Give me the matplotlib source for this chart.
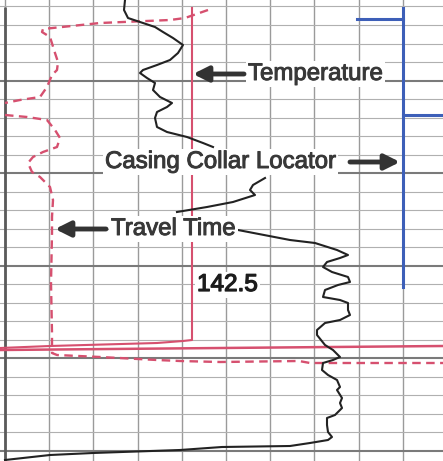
import numpy as np
from matplotlib import pyplot as plt
from matplotlib import patheffects as pe

# log track: x = track position, y = depth (pixels down)
# temperature curve, broken where the labels sit
temp_x1 = [125, 124, 128, 140, 155, 163, 173, 183, 178, 170, 157, 143, 140, 147, 155, 153, 160, 172, 167, 157, 155, 157, 167, 187, 203, 213]
temp_y1 = [0, 10, 18, 22, 27, 32, 38, 45, 53, 60, 65, 70, 73, 78, 83, 90, 97, 103, 107, 112, 118, 127, 132, 137, 143, 147]
temp_x2 = [265, 253, 250, 255, 233, 207, 177]
temp_y2 = [178, 185, 190, 195, 202, 207, 212]
temp_x3 = [238, 290, 315, 337, 348, 340, 327, 323, 332, 348, 350, 338, 325, 323, 340, 348, 348, 350, 340, 325,
           317, 317, 325, 333, 340, 333, 323, 322, 328, 337, 340, 337, 342, 340, 342, 335, 327, 327, 328, 332,
           328, 310, 290, 222, 180, 93, 50, 5]
temp_y3 = [230, 240, 243, 250, 255, 258, 262, 267, 272, 277, 282, 285, 290, 297, 300, 303, 310, 315, 320, 323,
           330, 335, 345, 350, 357, 360, 363, 370, 375, 380, 387, 390, 398, 403, 408, 415, 418, 425, 432, 437,
           440, 443, 446, 447, 450, 453, 455, 460]

# travel time (dashed)
tt_x = [208, 185, 170, 100, 43, 42, 50, 55, 58, 57, 52, 47, 40, 20, 5]
tt_y = [10, 18, 20, 23, 29, 32, 37, 53, 62, 70, 75, 87, 97, 100, 103]
tt_x2 = [5, 27, 47, 55, 60, 57, 43, 33, 28, 32, 40, 50, 53, 52, 52, 51, 52, 52, 57, 100, 157, 180, 220, 299, 310, 443]
tt_y2 = [115, 117, 120, 130, 138, 147, 152, 157, 163, 172, 177, 187, 200, 217, 233, 283, 333, 353, 355, 357, 360, 361, 362, 361, 363, 363]

# solid red reference line
red_x = [192, 192, 183, 157, 50, 0]
red_y = [8, 340, 341, 343, 346, 348]
red_base_x = [0, 443]
red_base_y = [350, 346]

# casing collar locator (blue)
ccl_x = [357, 403, 403, 403, 403, 443]
ccl_y = [19, 19, 8, 287, 115, 115]

grid_x = 5 + 44.2 * np.arange(10)
grid_y = 6.5 + 18.52 * np.arange(25)
major_y = grid_y[4::5]

fig = plt.figure(figsize=(4.43, 4.61), dpi=100)
ax = fig.add_axes([0, 0, 1, 1])
ax.set_xlim(0, 443)
ax.set_ylim(461, 0)

ax.set_xticks(grid_x)
ax.set_yticks(major_y)
ax.set_yticks(grid_y, minor=True)
ax.grid(which='major', axis='x', color='#9a9a9a', lw=1.0)
ax.grid(which='major', axis='y', color='#7a7a7a', lw=1.5)
ax.grid(which='minor', axis='y', color='#b0b0b0', lw=0.8)
ax.tick_params(which='both', length=0, labelleft=False, labelbottom=False)
for s in ax.spines.values():
    s.set_visible(False)

ax.vlines(grid_x[0], 7, 461, color='#5a5a5a', lw=2.0, zorder=2)

red = '#d6506f'
ax.plot(red_x, red_y, color=red, lw=1.5, zorder=3)
ax.plot(red_base_x, red_base_y, color=red, lw=1.8, zorder=3)
ax.plot(tt_x, tt_y, color=red, lw=1.7, ls=(0, (3.6, 2.3)), zorder=3)
ax.plot(tt_x2, tt_y2, color=red, lw=1.7, ls=(0, (3.6, 2.3)), zorder=3)

blue = '#3d5fb8'
ax.plot(ccl_x[:2], ccl_y[:2], color=blue, lw=2.2, zorder=3)
ax.plot(ccl_x[2:4], ccl_y[2:4], color=blue, lw=2.2, zorder=3)
ax.plot(ccl_x[4:], ccl_y[4:], color=blue, lw=2.2, zorder=3)

for xs, ys in [(temp_x1, temp_y1), (temp_x2, temp_y2), (temp_x3, temp_y3)]:
    ax.plot(xs, ys, color='#222222', lw=1.5, zorder=4)

box = dict(facecolor='white', edgecolor='none', pad=1.5)
fam = ['Liberation Sans', 'DejaVu Sans']
grey = '#383838'
bold = [pe.withStroke(linewidth=0.7, foreground=grey)]
txt = dict(fontsize=17.3, family=fam, color=grey, zorder=5, bbox=box, path_effects=bold)
ax.text(248, 74, 'Temperature', ha='left', va='center', **txt)
ax.text(105, 162, 'Casing Collar Locator', ha='left', va='center', **txt)
ax.text(111, 229, 'Travel Time', ha='left', va='center', **txt)
ax.text(197, 285, '142.5', ha='left', va='center', fontsize=17.5, family=fam, color='#1c1c1c', zorder=5,
        bbox=box, path_effects=[pe.withStroke(linewidth=0.9, foreground='#1c1c1c')])

arr = dict(arrowstyle='-|>,head_length=0.9,head_width=0.45', lw=3.5, color='#333333', shrinkA=0, shrinkB=0)
ax.annotate('', xy=(193, 74), xytext=(244, 74), arrowprops=arr, zorder=6)
ax.annotate('', xy=(400, 162), xytext=(350, 162), arrowprops=arr, zorder=6)
ax.annotate('', xy=(55, 229), xytext=(106, 229), arrowprops=arr, zorder=6)

plt.savefig('out.png', dpi=100)
